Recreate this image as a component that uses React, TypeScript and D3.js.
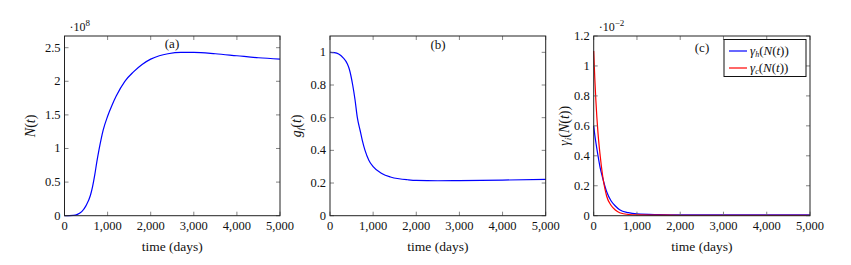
import React from "react";
import * as d3 from "d3";

// panel (a): N(t), in units of 1e8
const timeA = [0, 200, 300, 400, 500, 600, 650, 700, 750, 800, 850, 900, 1000, 1100, 1200, 1400, 1600, 1800, 2000, 2200, 2400, 2700, 3000, 3500, 4000, 4500, 5000];
const nValues = [0, 0.005, 0.02, 0.06, 0.15, 0.3, 0.43, 0.6, 0.8, 0.98, 1.14, 1.28, 1.48, 1.64, 1.78, 2.0, 2.14, 2.25, 2.33, 2.38, 2.41, 2.43, 2.43, 2.41, 2.38, 2.35, 2.33];

// panel (b): g_f(t)
const timeB = [0, 100, 200, 300, 400, 450, 526, 580, 634, 700, 750, 812, 900, 1000, 1200, 1400, 1600, 1800, 2000, 2500, 3000, 4000, 5000];
const gfValues = [1.0, 0.998, 0.99, 0.968, 0.93, 0.895, 0.8, 0.71, 0.6, 0.52, 0.46, 0.4, 0.34, 0.3, 0.258, 0.237, 0.226, 0.22, 0.216, 0.214, 0.215, 0.218, 0.222];

// panel (c): gamma_h and gamma_c, in units of 1e-2
const timeC = [0, 25, 50, 100, 150, 200, 300, 400, 500, 600, 800, 1000, 1500, 2000, 3000, 4000, 5000];
const gammaH = [0.6, 0.54, 0.49, 0.4, 0.32, 0.26, 0.16, 0.1, 0.065, 0.04, 0.02, 0.012, 0.007, 0.005, 0.005, 0.005, 0.005];
const gammaC = [1.1, 0.92, 0.77, 0.55, 0.4, 0.28, 0.13, 0.07, 0.038, 0.02, 0.008, 0.005, 0.004, 0.003, 0.003, 0.003, 0.003];

const xTicks = [0, 1000, 2000, 3000, 4000, 5000];
const yTicksA = [0, 0.5, 1, 1.5, 2, 2.5];
const yTicksB = [0, 0.2, 0.4, 0.6, 0.8, 1];
const yTicksC = [0, 0.2, 0.4, 0.6, 0.8, 1, 1.2];

const FONT = '"Liberation Serif", "Times New Roman", "DejaVu Serif", serif';
const top = 36;
const bottom = 215.7;

const fmtX = d3.format(",");

const Panel = ({ left, right, yMax, yTicks, series, title, titleX, titleY, yLabel, labelX, exponent, legend }) => {
  const x = d3.scaleLinear().domain([0, 5000]).range([left, right]);
  const y = d3.scaleLinear().domain([0, yMax]).range([bottom, top]);
  const line = d3
    .line()
    .x(d => x(d[0]))
    .y(d => y(d[1]))
    .curve(d3.curveMonotoneX);
  const tl = 4;
  const txt = size => ({ fontFamily: FONT, fontSize: size + "px" });

  return (
    <g fill="#111">
      {series.map((s, i) => (
        <path key={i} d={line(s.t.map((t, j) => [t, s.v[j]]))} fill="none" stroke={s.color} strokeWidth={1.2} />
      ))}
      {xTicks.map(t => (
        <g key={"x" + t}>
          <line x1={x(t)} x2={x(t)} y1={bottom} y2={bottom - tl} stroke="#666" strokeWidth={0.8} />
          <line x1={x(t)} x2={x(t)} y1={top} y2={top + tl} stroke="#666" strokeWidth={0.8} />
          <text x={x(t)} y={bottom + 14} textAnchor="middle" style={txt(12.5)}>{fmtX(t)}</text>
        </g>
      ))}
      {yTicks.map(v => (
        <g key={"y" + v}>
          <line x1={left} x2={left + tl} y1={y(v)} y2={y(v)} stroke="#666" strokeWidth={0.8} />
          <line x1={right} x2={right - tl} y1={y(v)} y2={y(v)} stroke="#666" strokeWidth={0.8} />
          <text x={left - 4} y={y(v) + 4} textAnchor="end" style={txt(12.5)}>{String(v)}</text>
        </g>
      ))}
      <rect x={left} y={top} width={right - left} height={bottom - top} fill="none" stroke="#222" strokeWidth={1} />
      <text x={titleX} y={titleY} textAnchor="middle" style={txt(13)}>{title}</text>
      <text x={(left + right) / 2} y={251} textAnchor="middle" style={txt(13.5)}>time (days)</text>
      <text transform={`translate(${labelX},${(top + bottom) / 2}) rotate(-90)`} textAnchor="middle" style={txt(14)}>
        {yLabel}
      </text>
      {exponent && (
        <text x={left + 5} y={31} style={txt(12)}>
          ·10<tspan dy={-5} style={{ fontSize: "9px" }}>{exponent}</tspan>
        </text>
      )}
      {legend && (
        <g>
          <rect x={724} y={39.5} width={82} height={37} fill="white" stroke="#111" strokeWidth={1} />
          {legend.map((s, i) => (
            <g key={i}>
              <line x1={729} x2={747} y1={51 + i * 17} y2={51 + i * 17} stroke={s.color} strokeWidth={1.2} />
              <text x={750} y={55 + i * 17} style={txt(13)}>
                <tspan fontStyle="italic">γ</tspan>
                <tspan fontStyle="italic" style={{ fontSize: "8px" }} dy={2}>{s.sub}</tspan>
                <tspan dy={-2}>(</tspan>
                <tspan fontStyle="italic">N</tspan>
                <tspan>(</tspan>
                <tspan fontStyle="italic">t</tspan>
                <tspan>))</tspan>
              </text>
            </g>
          ))}
        </g>
      )}
    </g>
  );
};

const App = () => {
  const seriesH = { t: timeC, v: gammaH, color: "#0000ff", sub: "h" };
  const seriesC = { t: timeC, v: gammaC, color: "#ff0000", sub: "c" };
  return (
    <svg width={851} height={265} style={{ position: "absolute", left: 0, top: 0, background: "white" }}>
      <Panel
        left={64.5}
        right={280}
        yMax={2.674}
        yTicks={yTicksA}
        series={[{ t: timeA, v: nValues, color: "#0000ff" }]}
        title="(a)"
        titleX={172}
        titleY={48}
        labelX={35}
        exponent="8"
        yLabel={
          <>
            <tspan fontStyle="italic">N</tspan>
            <tspan>(</tspan>
            <tspan fontStyle="italic">t</tspan>
            <tspan>)</tspan>
          </>
        }
      />
      <Panel
        left={330}
        right={545.7}
        yMax={1.1}
        yTicks={yTicksB}
        series={[{ t: timeB, v: gfValues, color: "#0000ff" }]}
        title="(b)"
        titleX={438}
        titleY={49}
        labelX={301}
        exponent={null}
        yLabel={
          <>
            <tspan fontStyle="italic">g</tspan>
            <tspan fontStyle="italic" style={{ fontSize: "9px" }} dy={2}>f</tspan>
            <tspan dy={-2}>(</tspan>
            <tspan fontStyle="italic">t</tspan>
            <tspan>)</tspan>
          </>
        }
      />
      <Panel
        left={593.7}
        right={810}
        yMax={1.2}
        yTicks={yTicksC}
        series={[seriesH, seriesC]}
        title="(c)"
        titleX={702}
        titleY={52}
        labelX={569}
        exponent="−2"
        legend={[seriesH, seriesC]}
        yLabel={
          <>
            <tspan fontStyle="italic">γ</tspan>
            <tspan fontStyle="italic" style={{ fontSize: "9px" }} dy={2}>i</tspan>
            <tspan dy={-2}>(</tspan>
            <tspan fontStyle="italic">N</tspan>
            <tspan>(</tspan>
            <tspan fontStyle="italic">t</tspan>
            <tspan>))</tspan>
          </>
        }
      />
    </svg>
  );
};

export default App;
